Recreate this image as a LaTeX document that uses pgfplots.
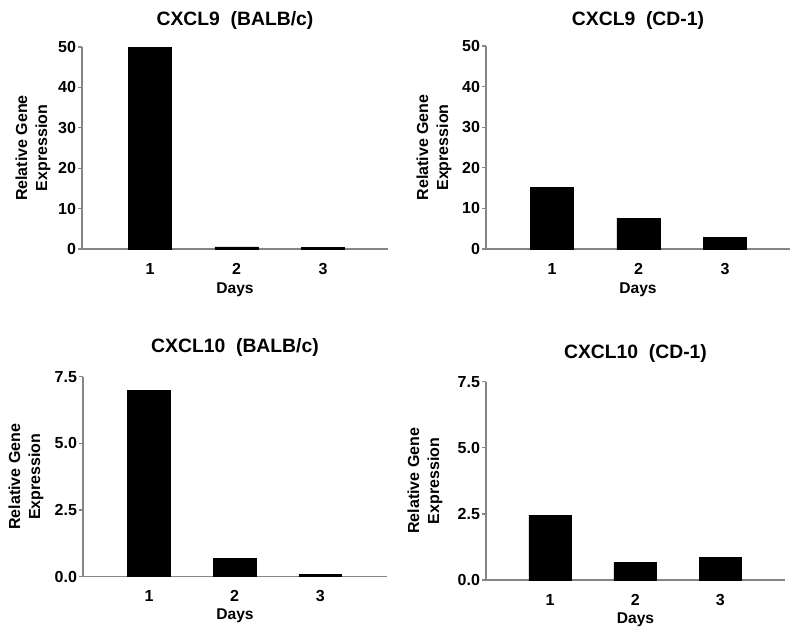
\documentclass[border=0pt]{standalone}
\usepackage{fontspec}
\setmainfont{Liberation Sans}
\usepackage{pgfplots}
\pgfplotsset{compat=1.18}
\definecolor{axgray}{HTML}{858585}
\pgfplotsset{
  panel/.style={
    scale only axis,
    anchor=south west,
    axis lines*=left,
    axis line style={axgray, line width=0.9pt},
    ybar, bar width=0.5,
    enlargelimits=false,
    ymin=0,
    xtick={1,2,3}, xticklabels={1,2,3},
    xtick style={draw=none},
    ytick style={axgray, line width=0.9pt},
    tick align=outside,
    major tick length=3pt,
    tick label style={font=\fontsize{12}{14}\selectfont\bfseries},
    xticklabel style={yshift=-4pt},
    yticklabel style={xshift=2pt},
    title style={at={(axis description cs:0.5,1)}, anchor=center, font=\fontsize{14.5}{16}\selectfont\bfseries},
    xlabel style={at={(axis description cs:0.5,0)}, anchor=center, font=\fontsize{11.7}{14}\selectfont\bfseries},
    ylabel style={anchor=center, align=center, font=\fontsize{12}{15}\selectfont\bfseries},
    xlabel={Days},
    ylabel={Relative Gene\\Expression},
  },
  barstyle/.style={fill=black, draw=black},
}
\begin{document}
\begin{tikzpicture}
\useasboundingbox (0,0) rectangle (600pt,474.75pt);
% Panel 1
\begin{axis}[panel, at={(61.5pt,288pt)}, width=229.5pt, height=151.5pt,
  xmin=0.214, xmax=3.75, ymax=50, ytick={0,10,20,30,40,50}, yticklabels={0,10,20,30,40,50},
  title={CXCL9\ \ (BALB/c)}, title style={yshift=14pt},
  xlabel style={yshift=-30.5pt},
  ylabel style={at={(axis description cs:-0.16,0.5)}}]
\addplot[barstyle] coordinates {(1,50) (2,0.5) (3,0.4)};
\end{axis}
% Panel 2
\begin{axis}[panel, at={(364.5pt,288pt)}, width=228pt, height=152.25pt,
  xmin=0.237, xmax=3.75, ymax=50, ytick={0,10,20,30,40,50}, yticklabels={0,10,20,30,40,50},
  title={CXCL9\ \ (CD-1)}, title style={yshift=13.5pt},
  xlabel style={yshift=-30.5pt},
  ylabel style={at={(axis description cs:-0.171,0.5)}}]
\addplot[barstyle] coordinates {(1,15.1) (2,7.6) (3,2.8)};
\end{axis}
% Panel 3
\begin{axis}[panel, at={(62.25pt,42.2pt)}, width=228pt, height=150pt,
  xmin=0.228, xmax=3.78, ymax=7.5, ytick={0,2.5,5,7.5}, yticklabels={0.0,2.5,5.0,7.5},
  title={CXCL10\ \ (BALB/c)}, title style={yshift=16.3pt},
  xlabel style={yshift=-29.5pt},
  ylabel style={at={(axis description cs:-0.1875,0.5)}}]
\addplot[barstyle] coordinates {(1,7.0) (2,0.69) (3,0.1)};
\end{axis}
% Panel 4
\begin{axis}[panel, at={(364.5pt,39.75pt)}, width=224.25pt, height=148.7pt,
  xmin=0.247, xmax=3.76, ymax=7.5, ytick={0,2.5,5,7.5}, yticklabels={0.0,2.5,5.0,7.5},
  title={CXCL10\ \ (CD-1)}, title style={yshift=15pt},
  xlabel style={yshift=-29.5pt},
  ylabel style={at={(axis description cs:-0.204,0.5)}}]
\addplot[barstyle] coordinates {(1,2.45) (2,0.67) (3,0.86)};
\end{axis}
\end{tikzpicture}
\end{document}
